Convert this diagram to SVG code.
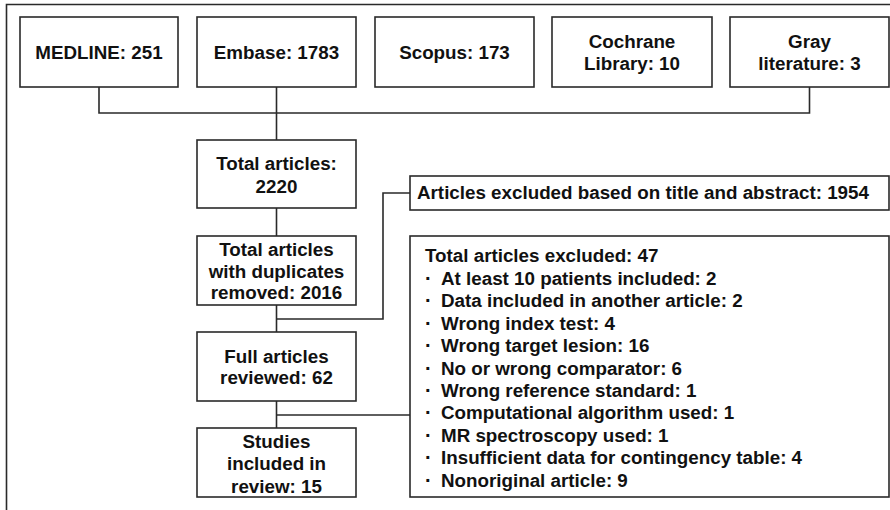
<svg xmlns="http://www.w3.org/2000/svg" width="890" height="510" viewBox="0 0 890 510">
<style>
.box{fill:#fff;stroke:#2a2a2a;stroke-width:1.6}
.ln{fill:none;stroke:#2a2a2a;stroke-width:1.6}
text{font-family:"Liberation Sans",Arial,Helvetica,sans-serif;font-weight:bold;font-size:18.8px;fill:#111}
.c{text-anchor:middle}
.b{font-size:20px}
</style>
<rect width="890" height="510" fill="#fff"/>
<g id="frame"><path class="ln" d="M6.5,510 V4.5 H890"/></g>
<g id="connectors">
<path class="ln" d="M99,87 V113 H809.5 V87"/>
<path class="ln" d="M276.5,87 V140"/>
<path class="ln" d="M276.5,208 V236"/>
<path class="ln" d="M276.5,305 V332"/>
<path class="ln" d="M276.5,319 H383 V193 H410"/>
<path class="ln" d="M276.5,401 V428"/>
<path class="ln" d="M276.5,415 H410"/>
</g>
<g id="medline"><rect class="box" x="20" y="17" width="158" height="70"/><text class="c" x="99" y="59">MEDLINE: 251</text></g>
<g id="embase"><rect class="box" x="197" y="17" width="159" height="70"/><text class="c" x="276.5" y="59">Embase: 1783</text></g>
<g id="scopus"><rect class="box" x="375" y="17" width="159" height="70"/><text class="c" x="454.5" y="59">Scopus: 173</text></g>
<g id="cochrane"><rect class="box" x="552" y="17" width="160" height="70"/><text class="c" x="632" y="48">Cochrane</text><text class="c" x="632" y="70">Library: 10</text></g>
<g id="gray"><rect class="box" x="730" y="17" width="159" height="70"/><text class="c" x="809.5" y="48">Gray</text><text class="c" x="809.5" y="70">literature: 3</text></g>
<g id="total"><rect class="box" x="197" y="140" width="159" height="68"/><text class="c" x="276.5" y="170">Total articles:</text><text class="c" x="276.5" y="193">2220</text></g>
<g id="dedup"><rect class="box" x="197" y="236" width="159" height="69"/><text class="c" x="276.5" y="256">Total articles</text><text class="c" x="276.5" y="278">with duplicates</text><text class="c" x="276.5" y="299">removed: 2016</text></g>
<g id="full"><rect class="box" x="197" y="332" width="159" height="69"/><text class="c" x="276.5" y="363">Full articles</text><text class="c" x="276.5" y="384">reviewed: 62</text></g>
<g id="studies"><rect class="box" x="197" y="428" width="159" height="69"/><text class="c" x="276.5" y="448">Studies</text><text class="c" x="276.5" y="470">included in</text><text class="c" x="276.5" y="493">review: 15</text></g>
<g id="excluded-title"><rect class="box" x="410" y="176" width="479" height="34"/><text x="417" y="199">Articles excluded based on title and abstract: 1954</text></g>
<g id="excluded-full"><rect class="box" x="410" y="236" width="479" height="261"/>
<text x="425" y="262">Total articles excluded: 47</text>
<text class="b" x="425" y="285">·</text><text x="441" y="285">At least 10 patients included: 2</text>
<text class="b" x="425" y="307">·</text><text x="441" y="307">Data included in another article: 2</text>
<text class="b" x="425" y="330">·</text><text x="441" y="330">Wrong index test: 4</text>
<text class="b" x="425" y="352">·</text><text x="441" y="352">Wrong target lesion: 16</text>
<text class="b" x="425" y="375">·</text><text x="441" y="375">No or wrong comparator: 6</text>
<text class="b" x="425" y="397">·</text><text x="441" y="397">Wrong reference standard: 1</text>
<text class="b" x="425" y="419">·</text><text x="441" y="419">Computational algorithm used: 1</text>
<text class="b" x="425" y="442">·</text><text x="441" y="442">MR spectroscopy used: 1</text>
<text class="b" x="425" y="464">·</text><text x="441" y="464">Insufficient data for contingency table: 4</text>
<text class="b" x="425" y="487">·</text><text x="441" y="487">Nonoriginal article: 9</text>
</g>
</svg>
